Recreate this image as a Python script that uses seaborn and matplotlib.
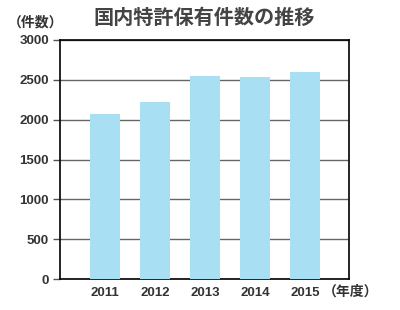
import matplotlib
matplotlib.use("Agg")
import matplotlib.pyplot as plt
import seaborn as sns
import pandas as pd

years = ["2011", "2012", "2013", "2014", "2015"]
counts = [2075, 2225, 2550, 2537, 2600]
y_ticks = [0, 500, 1000, 1500, 2000, 2500, 3000]

sns.set_style("white")
plt.rcParams["font.family"] = ["Noto Sans CJK JP", "DejaVu Sans"]

df = pd.DataFrame({"year": years, "count": counts})

fig = plt.figure(figsize=(4.0, 3.1), dpi=100)
ax = fig.add_axes([60 / 400, 1 - 279 / 310, 289 / 400, 239 / 310])

sns.barplot(data=df, x="year", y="count", color="#a9dff2", width=0.6,
            saturation=1, linewidth=0, edgecolor="none", ax=ax, zorder=3)

num_font = dict(family="Liberation Sans", fontsize=9.5, fontweight="bold", color="#333333")

ax.set_ylim(0, 3000)
ax.set_xlim(-0.9, 4.88)
ax.set_yticks(y_ticks)
ax.set_yticklabels([str(t) for t in y_ticks], **num_font)
ax.set_xticks(range(len(years)))
ax.set_xticklabels(years, **num_font)
ax.tick_params(axis="x", length=0, pad=6)
ax.tick_params(axis="y", length=5, width=1, color="#555555", pad=3, direction="out", left=True)
ax.yaxis.grid(True, color="#666666", linewidth=1, zorder=1)
ax.set_axisbelow(True)
for s in ax.spines.values():
    s.set_color("black")
    s.set_linewidth(1.2)
ax.set_xlabel("")
ax.set_ylabel("")

fig.text(204 / 400, 1 - 17 / 310, "国内特許保有件数の推移", ha="center", va="center",
         fontsize=14.5, fontweight="bold", color="#444444")
fig.text(36 / 400, 1 - 22 / 310, "（件数）", ha="center", va="center",
         fontsize=10, fontweight="bold", color="#333333")
fig.text(351 / 400, 1 - 292 / 310, "（年度）", ha="center", va="center",
         fontsize=10, fontweight="bold", color="#333333")

fig.savefig("out.png", dpi=100)
